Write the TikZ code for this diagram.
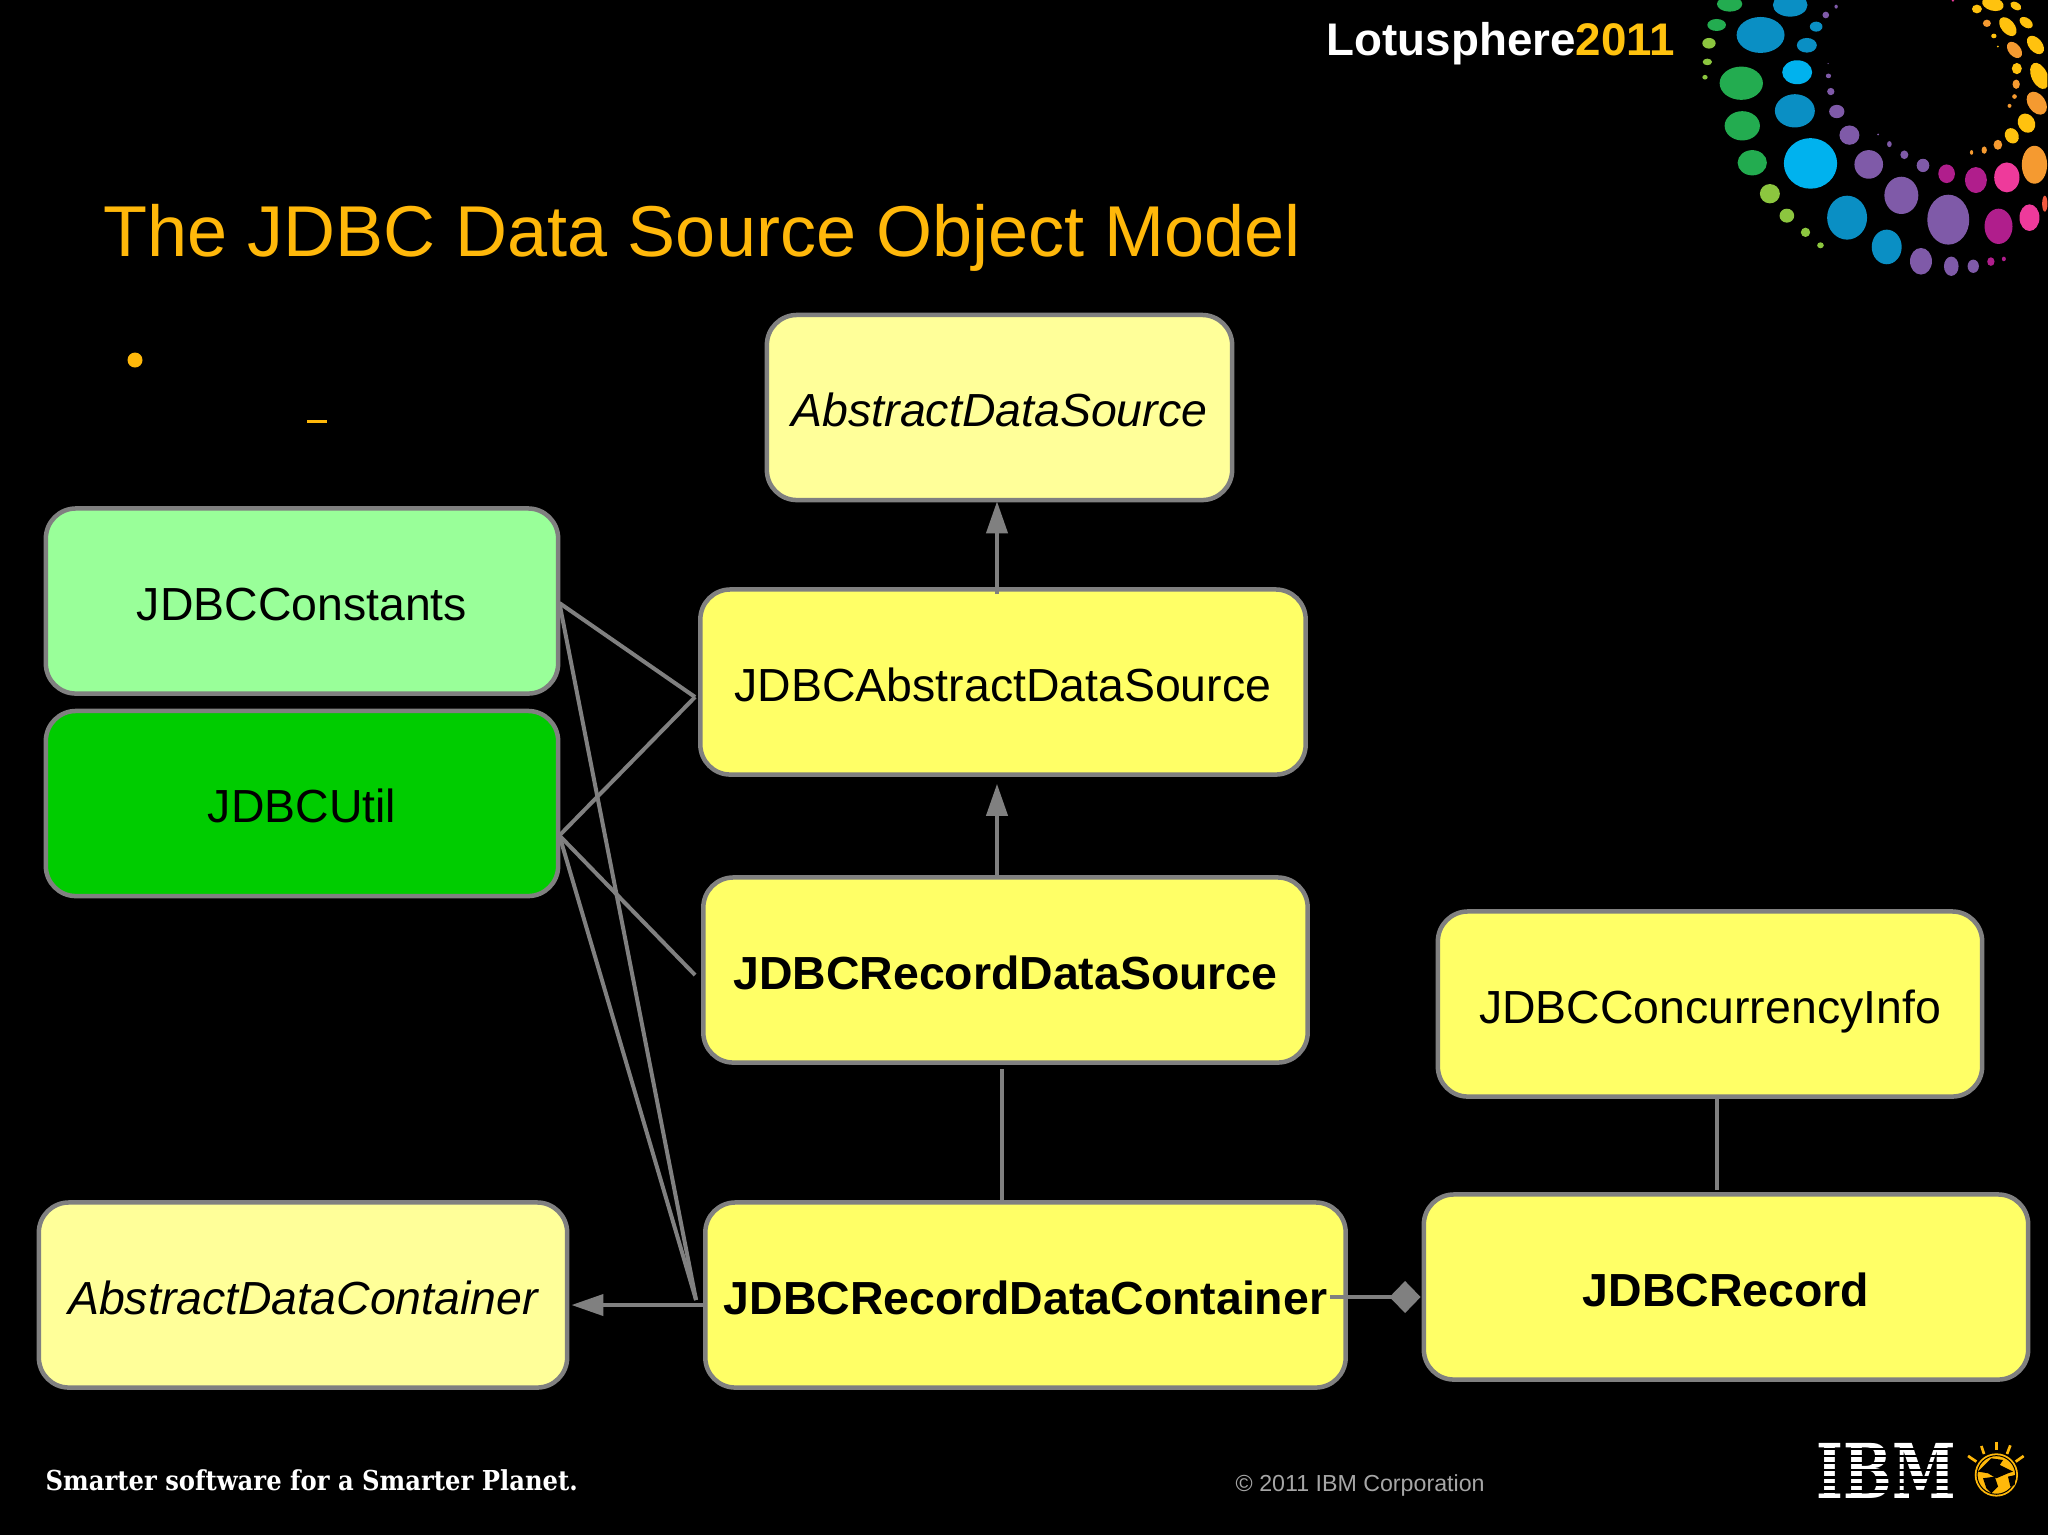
\documentclass[tikz,border=0pt]{standalone}
\usepackage{fontspec}
\setmainfont{Liberation Sans}
\newfontfamily\slabfont[FakeStretch=0.885]{DejaVu Serif}
\newfontfamily\ibmfont[FakeStretch=0.76]{DejaVu Serif}
\usetikzlibrary{arrows.meta}
\definecolor{titleorange}{HTML}{FFB80A}
\definecolor{linegray}{HTML}{808080}
\definecolor{boxyellow}{HTML}{FFFF66}
\definecolor{boxpale}{HTML}{FFFF99}
\definecolor{boxmint}{HTML}{99FF99}
\definecolor{boxgreen}{HTML}{00CC00}
\definecolor{dotblue}{HTML}{0A8FC4}
\definecolor{dotcyan}{HTML}{00B2EE}
\definecolor{dotgreen}{HTML}{23AC50}
\definecolor{dotlime}{HTML}{8CC63F}
\definecolor{dotpurple}{HTML}{7F5AA8}
\definecolor{dotmagenta}{HTML}{B01E8C}
\definecolor{dotpink}{HTML}{EE3A9B}
\definecolor{dotorange}{HTML}{F59A30}
\definecolor{dotyellow}{HTML}{FFC20E}
\definecolor{dotred}{HTML}{F15A40}
\tikzset{
    block/.style={
        draw=linegray,
        line width=0.045cm,
        rounded corners=0.3cm,
        minimum height=1.85cm,
        inner sep=0pt,
        text height=11pt,
        text depth=0pt,
        font=\fontsize{13.2}{16}\selectfont,
        text=black
    },
    boldblock/.style={
        block,
        fill=boxyellow,
        font=\fontsize{13.2}{16}\selectfont\bfseries
    },
    link/.style={
        draw=linegray,
        line width=0.04cm
    },
    inherit/.style={
        link,
        -{Triangle[length=0.32cm, width=0.21cm]}
    },
    member/.style={
        link,
        -{Diamond[length=0.31cm, width=0.32cm]}
    }
}
\begin{document}
\begin{tikzpicture}[x=0.01cm, y=-0.01cm]
    \useasboundingbox (0, 0) rectangle (2048, 1535);
    \fill [black] (0, 0) rectangle (2048, 1535);

    % logo dots, read off at three times the size
    \begin{scope}[shift={(1700, 0)}, x=0.0033333cm, y=-0.0033333cm]
        \clip (0, 0) rectangle (1044, 840);
        \foreach \px/\py/\rx/\ry/\col in {
            182/105/72/54/dotblue, 271/15/52/35/dotblue, 349/80/19/15/dotblue,
            321/136/30/22/dotblue, 285/333/60/50/dotblue, 442/654/60/66/dotblue,
            561/742/45/52/dotblue, 292/217/45/36/dotcyan, 332/491/80/76/dotcyan,
            89/12/38/23/dotgreen, 50/75/28/18/dotgreen, 124/250/65/50/dotgreen,
            127/378/53/44/dotgreen, 157/489/44/38/dotgreen,
            27/130/20/16/dotlime, 22/186/14/10/dotlime, 15/232/8/7/dotlime,
            210/582/30/29/dotlime, 261/648/22/21/dotlime, 317/698/14/14/dotlime,
            362/737/10/9/dotlime,
            411/335/23/20/dotpurple, 449/406/30/29/dotpurple, 507/494/43/43/dotpurple,
            605/587/51/56/dotpurple, 746/660/63/75/dotpurple, 664/785/33/40/dotpurple,
            755/800/22/29/dotpurple, 821/800/17/20/dotpurple, 393/275/11/11/dotpurple,
            386/228/8/7/dotpurple, 378/45/10/10/dotpurple, 409/20/5/6/dotpurple,
            670/497/19/20/dotpurple, 614/465/12/13/dotpurple, 569/433/7/9/dotpurple,
            535/404/3/3/dotpurple, 385/191/2/2/dotpurple,
            741/522/25/28/dotmagenta, 829/541/33/39/dotmagenta, 897/680/42/53/dotmagenta,
            874/786/11/13/dotmagenta, 913/778/6/7/dotmagenta,
            922/533/38/45/dotpink, 990/654/30/40/dotpink, 760/2/4/3/dotpink,
            1036/612/8/24/dotred, 1005/495/38/57/dotorange,
            816/458/5/7/dotorange, 854/451/8/11/dotorange, 895/435/13/15/dotorange,
            945/290/7/7/dotorange, 930/318/6/6/dotorange, 950/253/11/14/dotorange,
            952/206/15/17/dotyellow, 895/140/3/3/dotyellow, 883/108/8/7/dotyellow,
            862/70/12/11/dotorange, 832/27/15/13/dotyellow} {
            \fill [\col] (\px, \py) ellipse [x radius=\rx, y radius=\ry];
        }
        \foreach \px/\py/\rx/\ry/\ang/\col in {
            937/408/24/20/-60/dotyellow, 981/370/30/25/-60/dotyellow,
            1012/310/38/26/-55/dotorange, 1020/228/42/24/-65/dotyellow,
            945/150/28/18/-50/dotorange, 1008/135/32/20/-50/dotyellow,
            925/80/33/20/-50/dotyellow, 980/68/22/14/-35/dotyellow,
            880/12/33/20/-15/dotyellow, 949/18/18/11/-30/dotyellow} {
            \fill [\col, rotate around={\ang:(\px, \py)}] (\px, \py) ellipse [x radius=\rx, y radius=\ry];
        }
    \end{scope}

    \node (event) [anchor=base west, inner sep=0pt, text=white,
        font=\fontsize{13}{16}\selectfont\bfseries] at (1326, 55)
        {Lotusphere\textcolor{dotyellow}{2011}};
    \node (title) [anchor=base west, inner sep=0pt, text=titleorange,
        font=\fontsize{20.48}{24}\selectfont] at (103, 256)
        {The JDBC Data Source Object Model};

    \fill [titleorange] (135, 360) circle [radius=7.5];
    \fill [titleorange] (307, 420) rectangle (327, 423);

    \node (ads) [block, fill=boxpale, minimum width=4.65cm] at (999.5, 407.5) {\itshape AbstractDataSource};
    \node (jads) [block, fill=boxyellow, minimum width=6.05cm] at (1003, 682) {JDBCAbstractDataSource};
    \node (jrds) [boldblock, minimum width=6.04cm] at (1005.5, 970) {JDBCRecordDataSource};
    \node (jci) [block, fill=boxyellow, minimum width=5.44cm] at (1710, 1004) {JDBCConcurrencyInfo};
    \node (jrdc) [boldblock, minimum width=6.40cm] at (1025.5, 1295) {JDBCRecordDataContainer};
    \node (jr) [boldblock, minimum width=6.04cm] at (1726, 1287) {JDBCRecord};
    \node (adc) [block, fill=boxpale, minimum width=5.28cm] at (303, 1295) {\itshape AbstractDataContainer};
    \node (jc) [block, fill=boxmint, minimum width=5.12cm] at (302, 601) {JDBCConstants};
    \node (ju) [block, fill=boxgreen, minimum width=5.12cm] at (302, 803.5) {JDBCUtil};

    \draw [inherit] ([shift={(-6, 7)}]jads.north) -- ([shift={(-2.5, -1)}]ads.south);
    \draw [inherit] ([shift={(-8.5, 2)}]jrds.north) -- ([shift={(-6, 7)}]jads.south);
    \draw [link] ([shift={(-23.5, 0)}]jrdc.north) -- ([shift={(-3.5, 4)}]jrds.south);
    \draw [link] ([shift={(-9, -2)}]jr.north) -- ([shift={(7, -1)}]jci.south);
    \draw [inherit] ([shift={(4, 10)}]jrdc.west) -- ([shift={(2, 10)}]adc.east);
    \draw [member] ([shift={(-18, 2)}]jrdc.east) -- ([shift={(-1, 10)}]jr.west);

    \draw [link] ([shift={(-1, 2)}]jc.east) -- ([shift={(-3, 15)}]jads.west);
    \draw [link] ([shift={(-1, 32)}]ju.east) -- ([shift={(-3, 15)}]jads.west);
    \draw [link] ([shift={(-1, 32)}]ju.east) -- ([shift={(-6, 5)}]jrds.west);
    \draw [link] ([shift={(-1, 32)}]ju.east) -- ([shift={(-7, 5)}]jrdc.west);
    \draw [link] ([shift={(-1, 2)}]jc.east) -- ([shift={(-7, 5)}]jrdc.west);

    \node (slogan) [anchor=base west, inner sep=0pt, text=white,
        font=\fontsize{7.8}{9}\slabfont\bfseries] at (45, 1490)
        {Smarter software for a Smarter Planet.};
    \node (copyright) [anchor=base west, inner sep=0pt, text=black!35,
        font=\fontsize{6.6}{8}\selectfont] at (1235, 1491)
        {© 2011 IBM Corporation};

    % striped letters and the small globe
    \node (ibm) [anchor=base west, inner sep=0pt, text=white,
        font=\fontsize{21.5}{24}\ibmfont\bfseries] at (1816, 1498) {IBM};
    \foreach \sy in {1447.5, 1454.6, 1461.7, 1468.8, 1475.9, 1483, 1490.1} {
        \fill [black] (1810, \sy) rectangle (1960, \sy + 2.6);
    }
    \begin{scope}[shift={(1800, 1430)}, x=0.0033333cm, y=-0.0033333cm]
        \fill [titleorange] (590, 135) circle [radius=65];
        \draw [black, line width=0.01cm] (590, 135) circle [radius=58];
        \fill [black] (575, 85) -- (610, 90) -- (600, 105) -- (640, 125) -- (625, 130)
            -- (590, 145) -- (565, 130) -- (535, 125) -- cycle;
        \fill [black] (550, 145) -- (585, 140) -- (595, 170) -- (575, 190) -- (560, 175) -- cycle;
        \fill [black] (625, 140) -- (648, 135) -- (645, 165) -- (632, 170) -- cycle;
        \foreach \ax/\ay/\bx/\by in {
            590/35/590/60, 545/48/553/72, 632/46/622/72,
            505/78/530/95, 672/78/648/95} {
            \draw [titleorange, line width=0.027cm] (\ax, \ay) -- (\bx, \by);
        }
    \end{scope}
\end{tikzpicture}
\end{document}
